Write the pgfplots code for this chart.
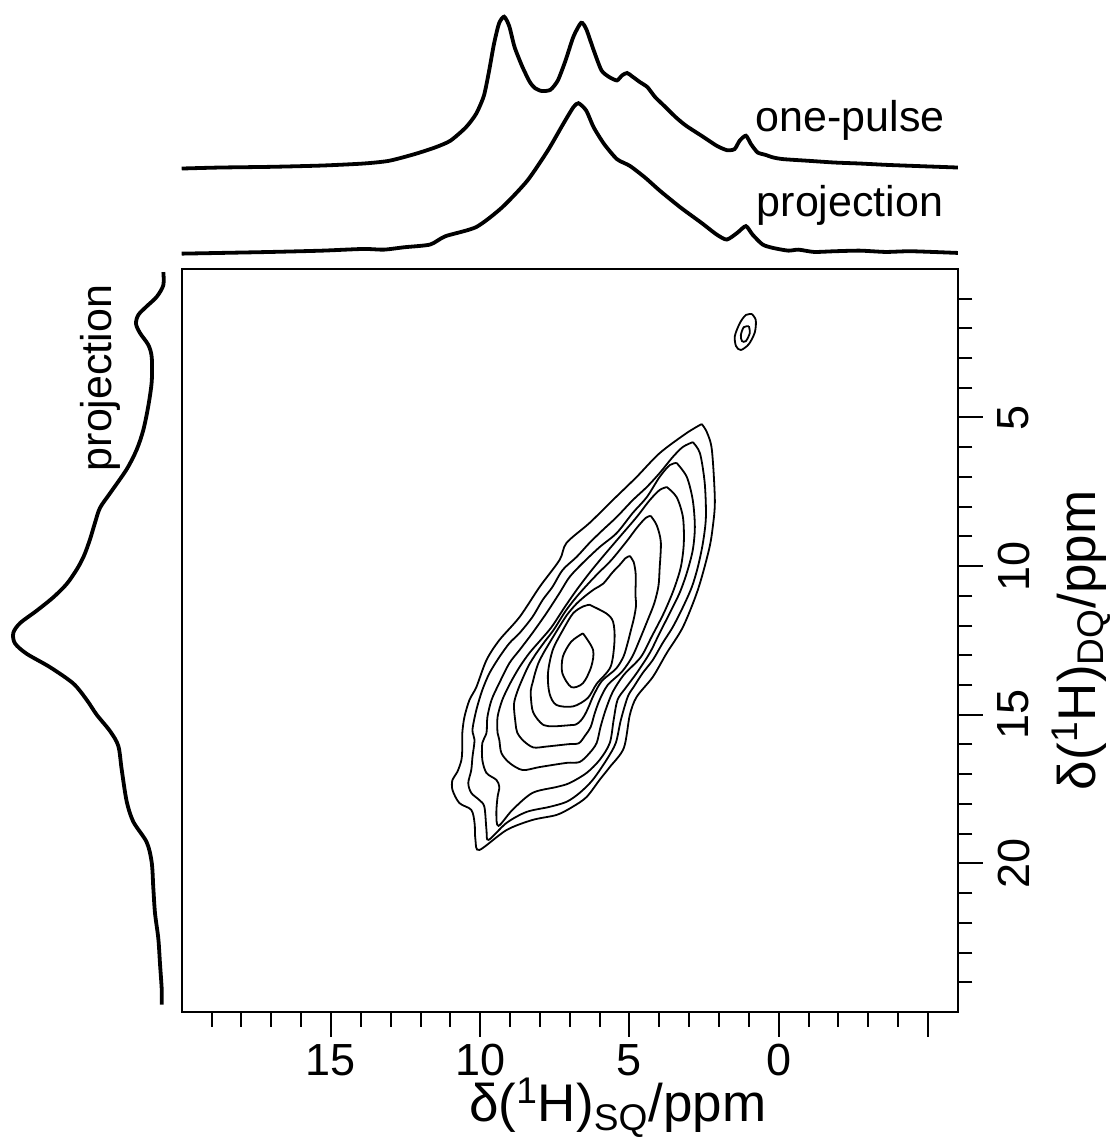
\documentclass[border=0pt]{standalone}
\usepackage{pgfplots}
\pgfplotsset{compat=1.18}
\usepackage{fontspec}
\setmainfont{Liberation Sans}
\begin{document}
\begin{tikzpicture}
% main 2D DQ/SQ contour map
\begin{axis}[name=main, at={(0,0)}, anchor=south west,
  width=388pt, height=371.5pt, scale only axis,
  xmin=-6, xmax=20, ymin=0, ymax=25, x dir=reverse, y dir=reverse,
  axis line style={line width=1.2pt},
  xtick={15,10,5,0,-5}, xticklabels={15,10,5,0,{}},
  minor xtick={-5,-4,...,19},
  ytick={5,10,15,20}, yticklabels={5,10,15,20},
  minor ytick={1,2,...,24},
  xtick pos=bottom, ytick pos=right, yticklabel pos=right,
  tick align=outside,
  major tick length=12.5pt, minor tick length=7.3pt,
  tick style={line width=1pt, black},
  ticklabel style={font=\fontsize{22.5}{22.5}\selectfont},
  yticklabel style={rotate=90, anchor=north},
  yticklabel shift=4pt,
  xlabel={δ(\textsuperscript{1}H)\textsubscript{SQ}/ppm},
  ylabel={δ(\textsuperscript{1}H)\textsubscript{DQ}/ppm},
  label style={font=\fontsize{26.5}{26.5}\selectfont},
  xlabel style={xshift=24pt, yshift=6pt},
  ylabel style={yshift=-4pt},
  every axis plot post/.append style={black, solid, mark=none, line width=0.9pt, smooth, tension=0.5},
]
\addplot coordinates {(2.58,5.22)(2.41,5.49)(2.24,6.09)(2.14,7.78)(2.21,8.68)(2.34,9.46)(2.71,10.80)(3.21,12.05)(3.75,12.92)(4.22,13.73)(4.76,14.40)(4.99,15.01)(5.19,16.12)(5.66,16.76)(6.00,17.19)(6.44,17.77)(6.91,18.10)(7.44,18.37)(8.25,18.54)(9.12,18.88)(10.03,19.55)(10.16,19.21)(10.19,18.64)(10.30,18.20)(10.70,17.97)(10.93,17.53)(10.93,17.19)(10.77,16.93)(10.63,16.52)(10.60,16.08)(10.60,15.61)(10.53,15.08)(10.36,14.50)(10.13,14.07)(9.79,13.16)(9.36,12.49)(8.68,11.71)(8.01,10.70)(7.34,9.79)(7.11,9.22)(6.34,8.55)(5.56,7.78)(4.76,7.00)(3.99,6.20)(3.08,5.52)(2.58,5.22)};
\addplot coordinates {(2.88,5.83)(2.64,6.20)(2.48,7.20)(2.44,8.35)(2.54,9.22)(2.71,10.03)(2.91,10.70)(3.21,11.38)(3.55,12.05)(3.89,12.59)(4.22,13.16)(4.56,13.60)(4.85,14.05)(5.06,14.40)(5.29,15.18)(5.46,15.95)(5.77,16.52)(6.23,17.19)(6.67,17.63)(7.11,17.93)(7.68,18.10)(8.45,18.27)(9.12,18.64)(9.72,19.21)(9.79,18.88)(9.86,18.10)(10.03,17.87)(10.30,17.63)(10.40,17.30)(10.30,16.86)(10.26,16.42)(10.19,15.85)(10.26,15.51)(10.13,14.84)(9.93,14.17)(9.69,13.60)(9.36,13.06)(9.02,12.59)(8.68,12.25)(8.25,11.71)(7.91,11.14)(7.58,10.70)(7.24,10.13)(6.77,9.69)(6.34,9.22)(5.90,8.79)(5.43,8.35)(4.89,7.78)(4.42,7.34)(3.99,6.87)(3.55,6.33)(3.21,5.99)(2.88,5.83)};
\addplot coordinates {(3.42,6.53)(3.08,7.00)(2.88,7.78)(2.81,8.68)(2.88,9.46)(3.08,10.23)(3.32,10.90)(3.65,11.58)(3.99,12.25)(4.32,12.92)(4.76,13.60)(5.13,14.10)(5.40,14.50)(5.53,15.17)(5.66,15.95)(6.00,16.52)(6.44,16.96)(7.01,17.30)(7.44,17.43)(8.25,17.63)(8.92,18.20)(9.39,18.74)(9.46,18.31)(9.42,17.77)(9.36,17.43)(9.46,17.19)(9.79,16.96)(9.93,16.52)(9.93,15.95)(9.79,15.61)(9.76,15.08)(9.62,14.50)(9.36,13.93)(9.02,13.26)(8.68,12.82)(8.25,12.25)(7.78,11.58)(7.34,10.90)(7.01,10.37)(6.57,9.90)(6.00,9.36)(5.43,8.89)(4.89,8.21)(4.42,7.68)(3.99,7.00)(3.65,6.60)(3.42,6.53)};
\addplot coordinates {(3.75,7.34)(3.42,7.68)(3.21,8.35)(3.18,9.22)(3.28,10.03)(3.52,10.80)(3.85,11.58)(4.26,12.38)(4.62,13.06)(5.19,13.66)(5.56,14.23)(5.80,14.84)(5.97,15.41)(6.10,15.95)(6.34,16.29)(6.67,16.59)(7.11,16.62)(8.01,16.76)(8.58,16.86)(9.02,16.62)(9.29,16.29)(9.36,15.85)(9.42,15.61)(9.42,15.08)(9.26,14.50)(8.99,13.93)(8.68,13.39)(8.35,12.92)(7.98,12.49)(7.61,12.05)(7.17,11.38)(6.77,10.80)(6.34,10.23)(5.90,9.69)(5.33,9.02)(4.76,8.35)(4.32,7.78)(3.99,7.44)(3.75,7.34)};
\addplot coordinates {(4.29,8.31)(4.09,8.62)(3.95,9.19)(3.99,10.08)(4.03,10.67)(4.17,11.25)(4.40,11.84)(4.66,12.48)(4.91,13.05)(5.25,13.55)(5.73,14.00)(6.00,14.50)(6.17,14.97)(6.30,15.41)(6.50,15.72)(6.70,15.96)(7.04,15.99)(7.78,16.07)(8.22,16.10)(8.55,15.88)(8.76,15.60)(8.82,15.26)(8.87,14.65)(8.75,14.20)(8.57,13.76)(8.37,13.33)(8.12,12.93)(7.84,12.54)(7.53,12.13)(7.14,11.51)(6.77,11.03)(6.39,10.60)(6.04,10.23)(5.61,9.80)(5.09,9.16)(4.76,8.72)(4.46,8.38)(4.29,8.31)};
\addplot coordinates {(4.99,9.66)(4.86,9.86)(4.79,10.30)(4.80,10.94)(4.78,11.31)(4.84,11.70)(4.94,12.11)(5.06,12.58)(5.20,13.04)(5.45,13.45)(5.93,13.87)(6.20,14.34)(6.37,14.74)(6.50,15.01)(6.64,15.21)(6.80,15.33)(6.98,15.35)(7.55,15.39)(7.87,15.35)(8.09,15.14)(8.23,14.91)(8.28,14.67)(8.31,14.21)(8.24,13.90)(8.16,13.59)(8.05,13.26)(7.89,12.94)(7.69,12.60)(7.46,12.22)(7.10,11.65)(6.77,11.26)(6.44,10.97)(6.17,10.77)(5.88,10.59)(5.56,10.20)(5.33,9.96)(5.13,9.73)(4.99,9.66)};
\addplot coordinates {(6.34,11.30)(5.78,11.59)(5.55,11.87)(5.50,12.48)(5.63,13.38)(6.10,13.96)(6.40,14.44)(6.89,14.72)(7.45,14.67)(7.68,14.28)(7.73,13.60)(7.57,12.82)(7.23,12.15)(6.89,11.59)(6.56,11.36)(6.34,11.30)};
\addplot coordinates {(6.56,12.26)(6.22,12.82)(6.28,13.38)(6.56,13.94)(6.95,14.07)(7.25,13.60)(7.23,13.04)(6.95,12.54)(6.56,12.26)};
% small isolated cross peak
\addplot coordinates {(0.90,1.52)(0.77,1.72)(0.80,2.13)(1.00,2.53)(1.27,2.73)(1.43,2.60)(1.47,2.26)(1.30,1.82)(1.10,1.55)(0.90,1.52)};
\addplot coordinates {(1.00,1.93)(0.97,2.16)(1.10,2.43)(1.23,2.43)(1.27,2.23)(1.17,1.96)(1.00,1.93)};
\end{axis}

% top: one-pulse spectrum and SQ projection
\begin{axis}[at={(main.north west)}, anchor=south west, yshift=3.4pt,
  width=388pt, height=131pt, scale only axis,
  xmin=-6, xmax=20, x dir=reverse, ymin=0, ymax=262,
  hide axis, clip=false,
  every axis plot post/.append style={black, solid, mark=none, line width=1.9pt, smooth, tension=0.4},
]
\addplot coordinates {(20,93.5)(18.72,94.5)(17.0,95.2)(15.29,96.5)(13.91,98.5)(13.06,101.2)(12.20,107.9)(11.51,114.6)(11.00,121.3)(10.48,134.7)(10.14,148.1)(9.88,166)(9.71,190)(9.54,218)(9.37,238.6)(9.20,245.3)(9.03,236)(8.85,215)(8.60,196)(8.34,180)(8.17,174)(7.94,171)(7.65,172.2)(7.40,181.6)(7.14,201.7)(6.88,225.2)(6.62,239.2)(6.45,233)(6.20,211.8)(5.94,191.7)(5.68,185)(5.42,181.6)(5.25,186.6)(5.08,189)(4.91,185.6)(4.65,179.9)(4.40,174.9)(4.14,164.9)(3.79,154.8)(3.45,144.8)(3.11,136.4)(2.59,126.3)(2.08,116.3)(1.74,111.9)(1.48,112.9)(1.31,121.3)(1.10,126.3)(0.93,117.9)(0.71,109.6)(0.45,107.2)(0.19,104.6)(-0.15,102.9)(-1.01,101.2)(-1.87,99.5)(-2.72,98.5)(-3.58,97.2)(-4.44,96.2)(-6,94.5)};
\addplot coordinates {(20,8.4)(18.72,9.1)(17.0,10.1)(15.29,11.4)(13.91,13.1)(13.23,12.4)(12.54,14.8)(11.68,17.5)(11.17,25.8)(10.14,34.9)(9.28,54.3)(8.43,81.1)(7.74,111.3)(7.22,138.1)(6.88,154.8)(6.71,158.8)(6.45,151.5)(6.20,134.7)(5.85,118)(5.42,102.9)(4.99,96.2)(4.48,84.5)(3.97,71)(3.28,54.3)(2.59,39.2)(2.08,27.5)(1.74,22.5)(1.39,29.2)(1.10,35.9)(0.88,27.5)(0.54,17.5)(0.19,14.1)(-0.32,11.4)(-0.66,12.4)(-1.18,10.1)(-1.87,10.8)(-2.72,11.4)(-3.58,10.1)(-4.44,10.8)(-6,9.1)};
\node[font=\fontsize{21.5}{21.5}\selectfont] at (axis cs:-2.39,142) {one-pulse};
\node[font=\fontsize{21.5}{21.5}\selectfont] at (axis cs:-2.39,57) {projection};
\end{axis}

% left: DQ projection
\begin{axis}[at={(main.north west)}, anchor=north east, xshift=-5.85pt,
  width=85pt, height=371.5pt, scale only axis,
  ymin=0, ymax=25, y dir=reverse, xmin=0, xmax=170, x dir=reverse,
  hide axis, clip=false,
  every axis plot post/.append style={black, solid, mark=none, line width=1.9pt, smooth, tension=0.5},
]
\addplot coordinates {(6.7,0.11)(6.7,0.55)(13.3,0.94)(23.3,1.26)(31.7,1.55)(34,1.85)(30,2.16)(21.7,2.56)(18.3,2.97)(18.3,3.79)(21.7,4.61)(26.7,5.42)(33.3,6.08)(43.3,6.74)(60,7.55)(70,8.04)(75,8.54)(80,9.10)(86,9.65)(93,10.10)(103.3,10.60)(116.7,11.05)(133.3,11.50)(150,11.92)(156.7,12.25)(155,12.60)(143.3,12.95)(120,13.40)(96.7,13.95)(83.3,14.50)(73.3,15.00)(60,15.55)(51.7,16.05)(48.3,16.85)(43.3,17.92)(36.7,18.60)(23.3,19.29)(18.3,19.97)(16.7,20.83)(15,21.68)(11.7,22.53)(10,23.39)(8.3,24.24)(8.3,24.75)};
\node[font=\fontsize{21.5}{21.5}\selectfont, rotate=90] at (axis cs:70,3.67) {projection};
\end{axis}
% page frame matching the reference proportions
\pgfresetboundingbox
\useasboundingbox ([shift={(-90.85pt,-65pt)}]main.south west) rectangle ([shift={(75.65pt,134.4pt)}]main.north east);
\end{tikzpicture}
\end{document}
